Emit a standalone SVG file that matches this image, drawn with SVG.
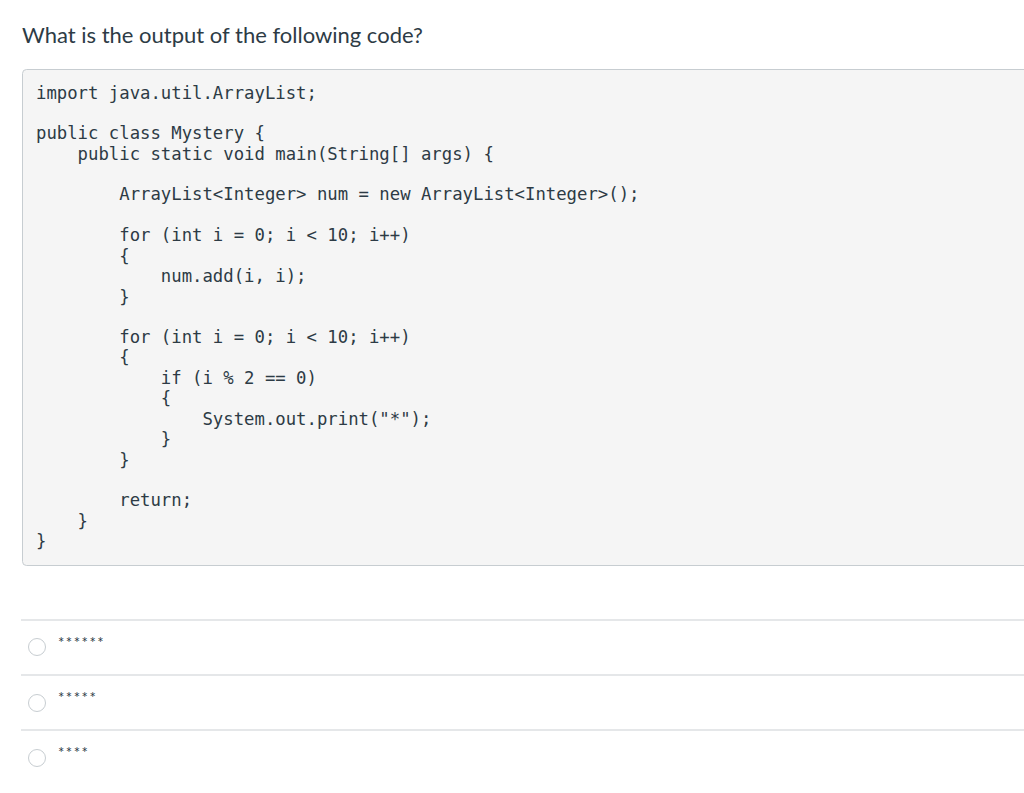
<svg xmlns="http://www.w3.org/2000/svg" width="1024" height="793" viewBox="0 0 1024 793">
<style>
.c{font-family:"DejaVu Sans Mono",monospace;font-size:17.3px;fill:#2d3b45;white-space:pre}
.o{font-family:Lato,"Liberation Sans",sans-serif;font-size:15px;fill:#2d3b45;letter-spacing:1.5px}
.r{fill:#fff;stroke:#c7cdd1;stroke-width:1}
.l{stroke:#dcdfe2;stroke-width:1.5}
</style>
<rect width="1024" height="793" fill="#fff"/>
<text x="22" y="43" font-family="Lato,'Liberation Sans',sans-serif" font-size="22" fill="#2d3b45">What is the output of the following code?</text>
<g id="code">
<rect x="22.5" y="69.5" width="1010" height="496" rx="4" fill="#f5f5f5" stroke="#c7cdd1"/>
<text class="c" x="36" y="99">import java.util.ArrayList;</text>
<text class="c" x="36" y="139">public class Mystery {</text>
<text class="c" x="36" y="160">    public static void main(String[] args) {</text>
<text class="c" x="36" y="200">        ArrayList&lt;Integer&gt; num = new ArrayList&lt;Integer&gt;();</text>
<text class="c" x="36" y="241">        for (int i = 0; i &lt; 10; i++)</text>
<text class="c" x="36" y="262">        {</text>
<text class="c" x="36" y="282">            num.add(i, i);</text>
<text class="c" x="36" y="303">        }</text>
<text class="c" x="36" y="343">        for (int i = 0; i &lt; 10; i++)</text>
<text class="c" x="36" y="363">        {</text>
<text class="c" x="36" y="384">            if (i % 2 == 0)</text>
<text class="c" x="36" y="404">            {</text>
<text class="c" x="36" y="425">                System.out.print("*");</text>
<text class="c" x="36" y="445">            }</text>
<text class="c" x="36" y="466">        }</text>
<text class="c" x="36" y="506">        return;</text>
<text class="c" x="36" y="527">    }</text>
<text class="c" x="36" y="547">}</text>
</g>
<g id="opt1"><line class="l" x1="21" y1="620" x2="1024" y2="620"/><circle class="r" cx="37" cy="647" r="8.5"/><text class="o" x="58" y="648">******</text></g>
<g id="opt2"><line class="l" x1="21" y1="675" x2="1024" y2="675"/><circle class="r" cx="37" cy="703" r="8.5"/><text class="o" x="58" y="703">*****</text></g>
<g id="opt3"><line class="l" x1="21" y1="730" x2="1024" y2="730"/><circle class="r" cx="37" cy="758" r="8.5"/><text class="o" x="58" y="758">****</text></g>
</svg>
